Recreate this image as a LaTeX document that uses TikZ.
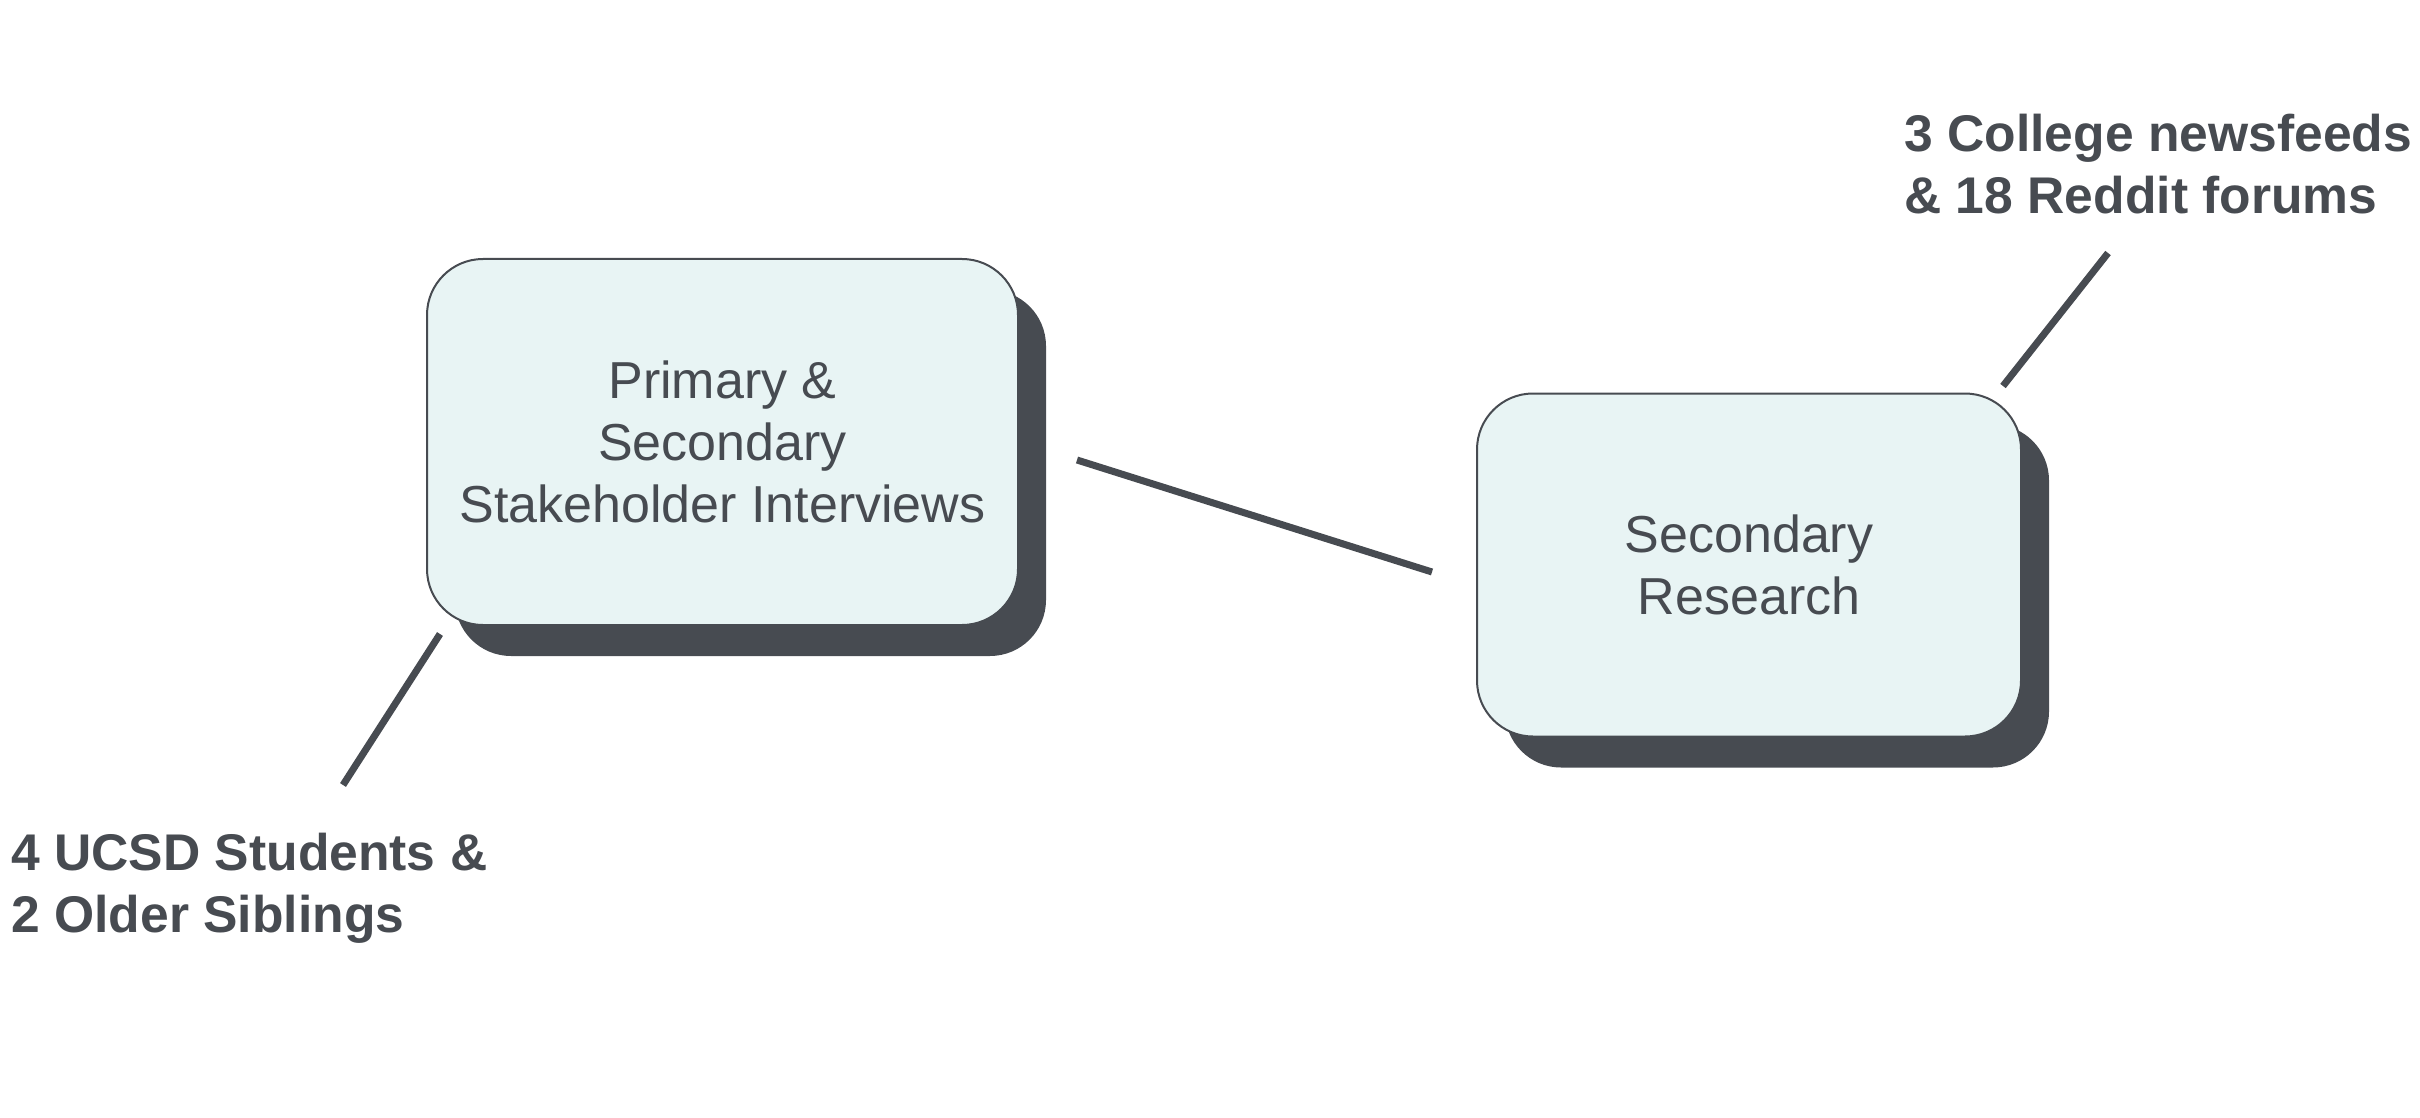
\documentclass[tikz,border=0pt]{standalone}
\usepackage{fontspec}
\setmainfont{Liberation Sans}
\usetikzlibrary{shadows}
\definecolor{ink}{HTML}{474B51}
\definecolor{boxfill}{HTML}{E8F4F4}
\begin{document}
\begin{tikzpicture}[x=0.5pt,y=-0.5pt,
  stagebox/.style={draw=ink, line width=1pt, fill=boxfill, rounded corners=28pt,
    align=center, text=ink, font=\fontsize{26}{31}\selectfont,
    drop shadow={shadow xshift=14pt, shadow yshift=-15.5pt, fill=ink, opacity=1}},
  note/.style={align=left, text=ink, font=\bfseries\fontsize{25.8}{31}\selectfont,
    anchor=west, inner sep=0pt},
  link/.style={draw=ink, line width=3.5pt}]
\useasboundingbox (0,0) rectangle (2420,1118);
\node[stagebox, minimum width=295.5pt, minimum height=183pt] (p) at (722.5,442)
  {Primary \&\\Secondary\\Stakeholder Interviews};
\node[stagebox, minimum width=272pt, minimum height=171.5pt] (s) at (1749,565)
  {Secondary\\Research};
\node[note] (l1) at (11,888) {4 UCSD Students \&\\2 Older Siblings};
\node[note] (l2) at (1904,164) {3 College newsfeeds\\\& 18 Reddit forums};
\coordinate (c1a) at (1077,460);
\coordinate (c1b) at (1432,572);
\coordinate (c2a) at (440,634);
\coordinate (c2b) at (343,785);
\coordinate (c3a) at (2108,253);
\coordinate (c3b) at (2003,386);
\draw[link] (c1a) -- (c1b);
\draw[link] (c2a) -- (c2b);
\draw[link] (c3a) -- (c3b);
\end{tikzpicture}
\end{document}
